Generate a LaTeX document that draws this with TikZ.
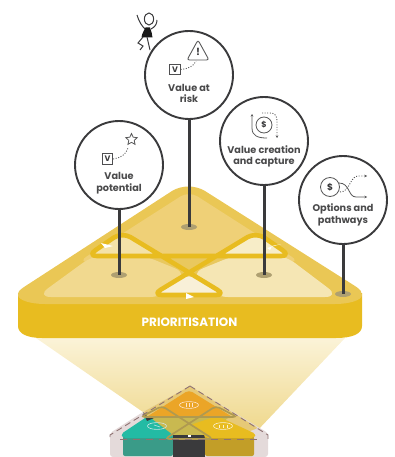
\documentclass[tikz,border=0pt]{standalone}
\usepackage{fontspec}
\setmainfont{Poppins}
\usetikzlibrary{arrows.meta,shapes.geometric}
\definecolor{ink}{HTML}{3A3A3C}
\definecolor{gold}{HTML}{E8BC20}
\definecolor{rimgold}{HTML}{EAC755}
\definecolor{upperfill}{HTML}{EFD077}
\definecolor{leftfill}{HTML}{F1D98F}
\definecolor{rightfill}{HTML}{F5E6B4}
\definecolor{loopl}{HTML}{F4E2A8}
\definecolor{loopr}{HTML}{F7EDC8}
\definecolor{loopb}{HTML}{F8F0D8}
\definecolor{midfill}{HTML}{E9C85E}
\definecolor{dotc}{HTML}{AFA071}
\definecolor{pinkish}{HTML}{E4DADA}
\definecolor{dashc}{HTML}{8F7272}
\definecolor{tanc}{HTML}{E6C977}
\definecolor{beamtop}{HTML}{FBF3D8}
\definecolor{beambot}{HTML}{EFD88C}
\definecolor{torange}{HTML}{EBA527}
\definecolor{tolive}{HTML}{C9B950}
\definecolor{tealdark}{HTML}{3A9B88}
\definecolor{teallight}{HTML}{23BBA4}
\definecolor{golddark}{HTML}{C29E28}
\definecolor{loopbrown}{HTML}{AF9A50}
\tikzset{
  x=1pt,y=-1pt,
  bubble/.style={circle,draw=ink,line width=1.9pt,fill=white,minimum size=88pt,inner sep=0pt},
  bubbletext/.style={text=ink!92,align=center,font=\fontsize{9.7}{11.5}\selectfont\bfseries,inner sep=0pt},
  stem/.style={draw=ink,line width=3pt},
  footdot/.style={ellipse,fill=dotc,minimum width=16pt,minimum height=6pt,inner sep=0pt},
  iconline/.style={draw=ink!85,line width=0.8pt},
  icondots/.style={draw=ink!85,line width=0.9pt,dash pattern=on 1pt off 1.6pt},
  vbox/.style={draw=ink!90,line width=0.8pt,minimum size=10.5pt,inner sep=0pt,text=ink,font=\fontsize{8}{8}\selectfont\bfseries},
  tipsmall/.style={-{Stealth[length=2.5pt,width=2.5pt]}},
  smallmark/.style={line width=0.6pt},
}
\begin{document}
\begin{tikzpicture}
\useasboundingbox (0,0) rectangle (394,457);
% beam
\shade[top color=beamtop,bottom color=beambot]
  (36,338) -- (345,338) -- (257,431) -- (143,412) -- cycle;
% small triangle backing
\fill[pinkish,rounded corners=3pt] (110,433) -- (143,412) -- (190,386) -- (268,433) -- (268,457) -- (110,457) -- cycle;
\fill[tanc,rounded corners=2pt] (143,412) -- (190,386) -- (258,428) -- (232,438) -- (150,438) -- cycle;
% tiles
\fill[torange,rounded corners=4pt] (189,390) -- (234,418) -- (145,418) -- cycle;
\fill[tolive] (150,418) -- (228,418) -- (205,436) -- (173,436) -- cycle;
\fill[tealdark,rounded corners=2pt] (123,436) -- (173,436) -- (173,456) -- (123,456) -- cycle;
\fill[teallight,rounded corners=3pt] (123,438) -- (121,434) -- (148,416) -- (173,435) -- (173,438) -- cycle;
\fill[ink] (173,435) rectangle (205,457);
\fill[golddark,rounded corners=2pt] (205,436) rectangle (254,456);
\fill[gold,rounded corners=3pt] (205,438) -- (205,435) -- (190,425) -- (217,416) -- (256,434) -- (254,438) -- cycle;
\fill[ink] (143,412) -- (148,417) -- (154,418) -- (147,421) -- cycle;
% small loops
\draw[loopbrown,line width=1.7pt,rounded corners=4pt]
  (141,417) -- (162,406) -- (213,439) -- (165,439) -- (216,406) -- (237,417) -- cycle;
\draw[white!80!orange,smallmark] (189,405) ellipse (9.5pt and 3.4pt);
\draw[white!80!orange,smallmark] (186,403) -- (186,407) (189,403) -- (189,407) (192,403) -- (192,407);
\draw[white!80!teal,smallmark] (157,426) ellipse (9.5pt and 3.4pt);
\draw[white!80!teal,smallmark] (154,425) -- (160,427);
\draw[white!80!gold,smallmark] (223,426) ellipse (9.5pt and 3.4pt);
\draw[white!80!gold,smallmark] (219,424.5) -- (219,427.5) (223,424.5) -- (223,427.5) (227,424.5) -- (227,427.5);
\node[fill=white,inner sep=0pt,minimum width=3pt,minimum height=1.5pt] (smallflag) at (189,436) {};
% dashes
\draw[dashc,line width=0.9pt,dash pattern=on 6pt off 4pt] (190,386) -- (110,435) -- (110,441);
\draw[dashc,line width=0.9pt,dash pattern=on 6pt off 4pt] (190,386) -- (268,435) -- (268,441);
\draw[dashc,line width=0.9pt,dash pattern=on 7pt off 6pt] (120,439) -- (260,439);
% platform
\fill[gold] (18,293) -- (18,326) .. controls (18,334) and (28,338) .. (42,338) -- (336,338)
  .. controls (352,338) and (362,334) .. (362,326) -- (362,293) -- cycle;
\fill[rimgold] (18,295) .. controls (18,291) and (20,290) .. (24,287)
  -- (172,191) .. controls (182,185) and (195,185) .. (205,191)
  -- (355,286) .. controls (361,290) and (362,292) .. (362,295)
  .. controls (362,300) and (350,304) .. (335,304) -- (45,304) .. controls (30,304) and (18,300) .. (18,295) -- cycle;
% inner faces
\fill[upperfill,rounded corners=10pt] (189,191) -- (300,262) -- (78,262) -- cycle;
\fill[midfill] (130,256) -- (248,256) -- (189,274) -- cycle;
\fill[leftfill,rounded corners=15pt] (36,297) -- (95,254) -- (140,254) -- (189,274) -- (165,297) -- cycle;
\fill[rightfill,rounded corners=15pt] (340,297) -- (283,254) -- (238,254) -- (189,274) -- (213,297) -- cycle;
\fill[midfill] (158,256) -- (220,256) -- (189,274) -- cycle;
\fill[loopl,rounded corners=8pt] (88,256) -- (122,234) -- (158,256) -- cycle;
\fill[loopr,rounded corners=8pt] (290,256) -- (256,234) -- (220,256) -- cycle;
\fill[loopb,rounded corners=8pt] (189,274) -- (224,295) -- (154,295) -- cycle;
\draw[gold,line width=4.6pt,rounded corners=10pt,line join=round]
  (87,256) -- (122,232) -- (226,295) -- (152,295) -- (256,232) -- (291,256) -- cycle;
% flags
\fill[white] (101,243) -- (113,246) -- (105,248) -- cycle;
\fill[white] (267,248) -- (281,244) -- (272,246) -- (270,250) -- cycle;
\fill[white] (186,293) -- (194,297) -- (186,299) -- cycle;
% label
\node[text=white,font=\fontsize{12}{14}\selectfont\bfseries,inner sep=0pt] (prio) at (189.5,322) {PRIORITISATION};
% feet and bubbles
\node[footdot] (f2) at (119,275) {};
\node[footdot] (f1) at (189,227) {};
\node[footdot] (f3) at (264,275) {};
\node[footdot] (f4) at (343,294) {};
\node[bubble] (b1) at (189,75) {};
\node[bubble] (b2) at (119,165) {};
\node[bubble] (b3) at (264,141) {};
\node[bubble] (b4) at (343,200) {};
\draw[stem] (b1.south) -- (f1.center);
\draw[stem] (b2.south) -- (f2.center);
\draw[stem] (b3.south) -- (f3.center);
\draw[stem] (b4.south) -- (f4.center);
\node[bubbletext] (t1) at (189,93.5) {Value at\\risk};
\node[bubbletext] (t2) at (119,183) {Value\\potential};
\node[bubbletext] (t3) at (264,156.5) {Value creation\\and capture};
\node[bubbletext] (t4) at (343,215) {Options and\\pathways};
% risk icon
\node[vbox] (v1) at (175,69.5) {V};
\draw[iconline,rounded corners=2.5pt,line width=0.9pt] (198,40) -- (209,60) -- (187,60) -- cycle;
\node[text=ink,font=\fontsize{10}{10}\selectfont\bfseries,inner sep=0pt] (ex) at (198,52) {!};
\draw[icondots] (v1.east) .. controls (188,69) and (194,66) .. (196,61);
% potential icon
\node[vbox] (v2) at (107.5,159) {V};
\node[star,star points=5,star point ratio=2.1,draw=ink!85,line width=0.8pt,minimum size=12pt,inner sep=0pt] (star2) at (131.5,139.5) {};
\draw[icondots] (v2.east) .. controls (120,158) and (126,155) .. (128,148);
% creation icon
\node[circle,iconline,minimum size=16pt,inner sep=0pt,text=ink,font=\fontsize{8}{8}\selectfont\bfseries] (d3) at (264,125) {\$};
\draw[iconline,tipsmall] (267,138) .. controls (258,138) and (252,136) .. (252,128) -- (252,114);
\draw[icondots,tipsmall] (262,113) -- (270,113) .. controls (275,113) and (277,116) .. (277,121) -- (277,138);
% options icon
\node[circle,iconline,minimum size=19pt,inner sep=0pt,text=ink,font=\fontsize{9}{9}\selectfont\bfseries] (d4) at (330,187) {\$};
\coordinate (o1) at (367,197);
\coordinate (o2) at (367,176);
\draw[iconline,tipsmall] (339,183) .. controls (350,183) and (348,197) .. (356,197) -- (o1);
\draw[icondots,tipsmall] (340,192) .. controls (350,192) and (350,176) .. (358,176) -- (o2);
% person
\draw[ink,line width=1pt] (149,19) ellipse (4.6pt and 6pt);
\draw[ink,line width=1pt] (137,15) .. controls (139,22) and (142,26) .. (145,29);
\draw[ink,line width=1pt] (157,20) .. controls (157,24) and (155,27) .. (151,29);
\fill[black!90] (145.5,27.5) -- (150,27.5) .. controls (151,31) and (152.5,34) .. (152.5,37.5) -- (141.5,37.5) .. controls (142,33) and (144,31) .. (145.5,27.5) -- cycle;
\draw[ink,line width=1pt] (143,37) -- (138,43) -- (143,46) -- (140,50);
\draw[ink,line width=1pt] (147,37) -- (150,50);
\end{tikzpicture}
\end{document}
